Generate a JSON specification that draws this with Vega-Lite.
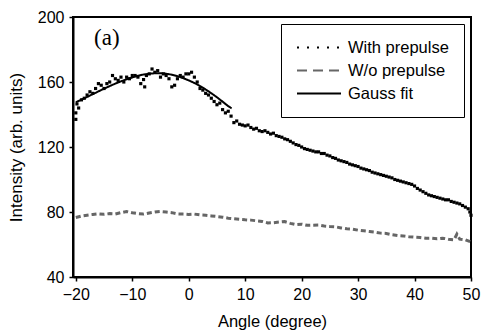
{
  "$schema": "https://vega.github.io/schema/vega-lite/v6.json",
  "autosize": {"type": "none"},
  "padding": {"left": 73, "top": 17, "right": 10, "bottom": 56},
  "width": 398,
  "height": 260,
  "datasets": {
    "with": [
      {"angle": -20, "intensity": 137}, {"angle": -20, "intensity": 141}, {"angle": -19.8, "intensity": 146.5},
      {"angle": -19.5, "intensity": 144}, {"angle": -19, "intensity": 149}, {"angle": -18.5, "intensity": 150},
      {"angle": -18, "intensity": 152}, {"angle": -17.5, "intensity": 154}, {"angle": -17, "intensity": 153},
      {"angle": -16.5, "intensity": 156}, {"angle": -16, "intensity": 159}, {"angle": -15.5, "intensity": 158},
      {"angle": -15, "intensity": 156}, {"angle": -14.5, "intensity": 159}, {"angle": -14, "intensity": 160},
      {"angle": -13.5, "intensity": 164}, {"angle": -13, "intensity": 162}, {"angle": -12.5, "intensity": 161},
      {"angle": -12, "intensity": 163}, {"angle": -11.5, "intensity": 160}, {"angle": -11, "intensity": 163},
      {"angle": -10.5, "intensity": 162}, {"angle": -10, "intensity": 164}, {"angle": -9.5, "intensity": 164},
      {"angle": -9, "intensity": 163}, {"angle": -8.5, "intensity": 159}, {"angle": -8, "intensity": 161.5},
      {"angle": -7.8, "intensity": 157}, {"angle": -7.5, "intensity": 164}, {"angle": -7, "intensity": 165},
      {"angle": -6.5, "intensity": 168}, {"angle": -6, "intensity": 166}, {"angle": -5.5, "intensity": 167},
      {"angle": -5, "intensity": 163}, {"angle": -4.5, "intensity": 165}, {"angle": -4, "intensity": 164},
      {"angle": -3.5, "intensity": 162}, {"angle": -3, "intensity": 157}, {"angle": -2.5, "intensity": 158},
      {"angle": -2, "intensity": 162}, {"angle": -1.5, "intensity": 164}, {"angle": -1, "intensity": 163},
      {"angle": -0.5, "intensity": 165}, {"angle": 0, "intensity": 165}, {"angle": 0.5, "intensity": 166},
      {"angle": 1, "intensity": 163}, {"angle": 1.5, "intensity": 160}, {"angle": 2, "intensity": 156},
      {"angle": 2.5, "intensity": 155}, {"angle": 3, "intensity": 153}, {"angle": 3.5, "intensity": 152},
      {"angle": 4, "intensity": 150}, {"angle": 4.5, "intensity": 148}, {"angle": 5, "intensity": 146},
      {"angle": 5.5, "intensity": 147}, {"angle": 6, "intensity": 143}, {"angle": 6.5, "intensity": 141},
      {"angle": 7, "intensity": 142}, {"angle": 7.5, "intensity": 139}, {"angle": 8, "intensity": 135},
      {"angle": 8.5, "intensity": 136}, {"angle": 9, "intensity": 134}, {"angle": 9.5, "intensity": 133.5},
      {"angle": 10, "intensity": 133}, {"angle": 10.5, "intensity": 133.5}, {"angle": 11, "intensity": 132},
      {"angle": 11.5, "intensity": 131}, {"angle": 12, "intensity": 131.5}, {"angle": 12.5, "intensity": 130},
      {"angle": 13, "intensity": 129.5}, {"angle": 13.5, "intensity": 130}, {"angle": 14, "intensity": 129},
      {"angle": 14.5, "intensity": 128}, {"angle": 15, "intensity": 128.5}, {"angle": 15.5, "intensity": 127},
      {"angle": 16, "intensity": 126.5}, {"angle": 16.5, "intensity": 126}, {"angle": 17, "intensity": 125},
      {"angle": 17.5, "intensity": 124.5}, {"angle": 18, "intensity": 123.5}, {"angle": 18.5, "intensity": 122.5},
      {"angle": 19, "intensity": 121.5}, {"angle": 19.5, "intensity": 121}, {"angle": 20, "intensity": 120},
      {"angle": 20.5, "intensity": 119}, {"angle": 21, "intensity": 118.5}, {"angle": 21.5, "intensity": 118},
      {"angle": 22, "intensity": 117.5}, {"angle": 22.5, "intensity": 117}, {"angle": 23, "intensity": 117},
      {"angle": 23.5, "intensity": 116}, {"angle": 24, "intensity": 116}, {"angle": 24.5, "intensity": 115},
      {"angle": 25, "intensity": 114.5}, {"angle": 25.5, "intensity": 113.5}, {"angle": 26, "intensity": 113},
      {"angle": 26.5, "intensity": 112}, {"angle": 27, "intensity": 111.5}, {"angle": 27.5, "intensity": 111},
      {"angle": 28, "intensity": 110.5}, {"angle": 28.5, "intensity": 109.5}, {"angle": 29, "intensity": 109},
      {"angle": 29.5, "intensity": 108.5}, {"angle": 30, "intensity": 108}, {"angle": 30.5, "intensity": 107},
      {"angle": 31, "intensity": 106.5}, {"angle": 31.5, "intensity": 106}, {"angle": 32, "intensity": 105.5},
      {"angle": 32.5, "intensity": 104.5}, {"angle": 33, "intensity": 104}, {"angle": 33.5, "intensity": 103.5},
      {"angle": 34, "intensity": 103}, {"angle": 34.5, "intensity": 102.5}, {"angle": 35, "intensity": 102},
      {"angle": 35.5, "intensity": 101.5}, {"angle": 36, "intensity": 101}, {"angle": 36.5, "intensity": 100},
      {"angle": 37, "intensity": 99.5}, {"angle": 37.5, "intensity": 99}, {"angle": 38, "intensity": 98.5},
      {"angle": 38.5, "intensity": 98}, {"angle": 39, "intensity": 97.5}, {"angle": 39.5, "intensity": 97},
      {"angle": 40, "intensity": 96}, {"angle": 40.5, "intensity": 94.5}, {"angle": 41, "intensity": 93.5},
      {"angle": 41.5, "intensity": 92.5}, {"angle": 42, "intensity": 91.5}, {"angle": 42.5, "intensity": 90.5},
      {"angle": 43, "intensity": 90}, {"angle": 43.5, "intensity": 89.5}, {"angle": 44, "intensity": 89},
      {"angle": 44.5, "intensity": 88.5}, {"angle": 45, "intensity": 88}, {"angle": 45.5, "intensity": 87.5},
      {"angle": 46, "intensity": 87.5}, {"angle": 46.5, "intensity": 86.5}, {"angle": 47, "intensity": 86},
      {"angle": 47.5, "intensity": 85.5}, {"angle": 48, "intensity": 85}, {"angle": 48.5, "intensity": 84},
      {"angle": 49, "intensity": 83}, {"angle": 49.5, "intensity": 82}, {"angle": 49.8, "intensity": 80},
      {"angle": 50, "intensity": 78}
    ],
    "wo": [
      {"angle": -20, "intensity": 76.6}, {"angle": -19, "intensity": 77.5}, {"angle": -18, "intensity": 78},
      {"angle": -17, "intensity": 78.5}, {"angle": -16, "intensity": 78.9}, {"angle": -15, "intensity": 78.6},
      {"angle": -14, "intensity": 79}, {"angle": -13, "intensity": 78.8}, {"angle": -12, "intensity": 79.6},
      {"angle": -11, "intensity": 80.3}, {"angle": -10, "intensity": 79.5}, {"angle": -9, "intensity": 79},
      {"angle": -8, "intensity": 78.7}, {"angle": -7, "intensity": 79.4}, {"angle": -6, "intensity": 80},
      {"angle": -5, "intensity": 80.3}, {"angle": -4, "intensity": 80}, {"angle": -3, "intensity": 79.6},
      {"angle": -2, "intensity": 78.8}, {"angle": -1, "intensity": 78.7}, {"angle": 0, "intensity": 78.5},
      {"angle": 1, "intensity": 78.7}, {"angle": 2, "intensity": 78.2}, {"angle": 3, "intensity": 78},
      {"angle": 4, "intensity": 77.6}, {"angle": 5, "intensity": 77.2}, {"angle": 6, "intensity": 76.8},
      {"angle": 7, "intensity": 76.2}, {"angle": 8, "intensity": 75.8}, {"angle": 9, "intensity": 75.5},
      {"angle": 10, "intensity": 75.2}, {"angle": 11, "intensity": 75}, {"angle": 12, "intensity": 74.6},
      {"angle": 13, "intensity": 74.2}, {"angle": 14, "intensity": 73.3}, {"angle": 15, "intensity": 73.4},
      {"angle": 16, "intensity": 73.8}, {"angle": 17, "intensity": 74.1}, {"angle": 18, "intensity": 73},
      {"angle": 19, "intensity": 72.2}, {"angle": 20, "intensity": 72.5}, {"angle": 21, "intensity": 71.8},
      {"angle": 22, "intensity": 71.9}, {"angle": 23, "intensity": 72}, {"angle": 24, "intensity": 71.4},
      {"angle": 25, "intensity": 71.1}, {"angle": 26, "intensity": 70.9}, {"angle": 27, "intensity": 70.2},
      {"angle": 28, "intensity": 69.7}, {"angle": 29, "intensity": 69.5}, {"angle": 30, "intensity": 68.8},
      {"angle": 31, "intensity": 68.4}, {"angle": 32, "intensity": 68}, {"angle": 33, "intensity": 67.6},
      {"angle": 34, "intensity": 67}, {"angle": 35, "intensity": 66.8}, {"angle": 36, "intensity": 66},
      {"angle": 37, "intensity": 65.5}, {"angle": 38, "intensity": 65.3}, {"angle": 39, "intensity": 64.8},
      {"angle": 40, "intensity": 64.5}, {"angle": 41, "intensity": 64.3}, {"angle": 42, "intensity": 63.8},
      {"angle": 43, "intensity": 63.9}, {"angle": 44, "intensity": 63.5}, {"angle": 45, "intensity": 63.9},
      {"angle": 46, "intensity": 63.2}, {"angle": 47, "intensity": 62.9}, {"angle": 47.5, "intensity": 66.4},
      {"angle": 48, "intensity": 63.3}, {"angle": 49, "intensity": 62.9}, {"angle": 50, "intensity": 61.5}
    ],
    "fit": [
      {"series": "Gauss fit", "angle": -20, "intensity": 147.5}, {"series": "Gauss fit", "angle": -19, "intensity": 149.2},
      {"series": "Gauss fit", "angle": -18, "intensity": 150.8}, {"series": "Gauss fit", "angle": -17, "intensity": 152.5},
      {"series": "Gauss fit", "angle": -16, "intensity": 154.2}, {"series": "Gauss fit", "angle": -15, "intensity": 155.9},
      {"series": "Gauss fit", "angle": -14, "intensity": 157.5}, {"series": "Gauss fit", "angle": -13, "intensity": 159},
      {"series": "Gauss fit", "angle": -12, "intensity": 160.4}, {"series": "Gauss fit", "angle": -11, "intensity": 161.7},
      {"series": "Gauss fit", "angle": -10, "intensity": 162.8}, {"series": "Gauss fit", "angle": -9, "intensity": 163.8},
      {"series": "Gauss fit", "angle": -8, "intensity": 164.6}, {"series": "Gauss fit", "angle": -7, "intensity": 165.1},
      {"series": "Gauss fit", "angle": -6, "intensity": 165.4}, {"series": "Gauss fit", "angle": -5, "intensity": 165.4},
      {"series": "Gauss fit", "angle": -4, "intensity": 165.1}, {"series": "Gauss fit", "angle": -3, "intensity": 164.5},
      {"series": "Gauss fit", "angle": -2, "intensity": 163.6}, {"series": "Gauss fit", "angle": -1, "intensity": 162.4},
      {"series": "Gauss fit", "angle": 0, "intensity": 161}, {"series": "Gauss fit", "angle": 1, "intensity": 159.4},
      {"series": "Gauss fit", "angle": 2, "intensity": 157.5}, {"series": "Gauss fit", "angle": 3, "intensity": 155.4},
      {"series": "Gauss fit", "angle": 4, "intensity": 153.1}, {"series": "Gauss fit", "angle": 5, "intensity": 150.6},
      {"series": "Gauss fit", "angle": 6, "intensity": 147.9}, {"series": "Gauss fit", "angle": 7, "intensity": 145.1},
      {"series": "Gauss fit", "angle": 7.6, "intensity": 143.8}
    ],
    "label": [{"text": "(a)"}]
  },
  "layer": [
    {
      "data": {"name": "wo"},
      "mark": {"type": "line", "color": "#666666", "strokeWidth": 3, "strokeDash": [5, 3]},
      "encoding": {
        "x": {"field": "angle", "type": "quantitative", "scale": {"domain": [-20.5, 50], "nice": false, "zero": false},
          "axis": {"title": "Angle (degree)", "values": [-20, -15, -10, -5, 0, 5, 10, 15, 20, 25, 30, 35, 40, 45, 50],
            "labelExpr": "datum.value % 10 == 0 ? datum.label : ''", "grid": false, "titlePadding": 11}},
        "y": {"field": "intensity", "type": "quantitative", "scale": {"domain": [40, 200], "nice": false, "zero": false},
          "axis": {"title": "Intensity (arb. units)", "values": [40, 60, 80, 100, 120, 140, 160, 180, 200],
            "labelExpr": "datum.value % 40 == 0 ? datum.label : ''", "grid": false, "titlePadding": 12, "titleFontSize": 17}}
      }
    },
    {
      "data": {"name": "with"},
      "mark": {"type": "square", "color": "black", "filled": true, "size": 10, "opacity": 1},
      "encoding": {
        "x": {"field": "angle", "type": "quantitative"},
        "y": {"field": "intensity", "type": "quantitative"}
      }
    },
    {
      "data": {"name": "fit"},
      "mark": {"type": "line", "strokeWidth": 2},
      "encoding": {
        "x": {"field": "angle", "type": "quantitative"},
        "y": {"field": "intensity", "type": "quantitative"},
        "color": {"field": "series", "type": "nominal",
          "scale": {"domain": ["With prepulse", "W/o prepulse", "Gauss fit"], "range": ["black", "#666666", "black"]},
          "legend": {"title": null, "orient": "top-right", "offset": 7, "symbolType": "stroke", "symbolSize": 1936,
            "symbolStrokeWidth": 2, "labelFontSize": 16.5, "labelFont": "Liberation Sans", "labelColor": "black",
            "labelOffset": 6, "padding": 15, "rowPadding": 6, "clipHeight": 17, "fillColor": "white", "strokeColor": "black"}},
        "strokeDash": {"field": "series", "type": "nominal",
          "scale": {"domain": ["With prepulse", "W/o prepulse", "Gauss fit"], "range": [[2, 8], [10, 6], [1, 0]]},
          "legend": {"title": null, "orient": "top-right", "offset": 7, "symbolType": "stroke", "symbolSize": 1936,
            "symbolStrokeWidth": 2, "labelFontSize": 16.5, "labelFont": "Liberation Sans", "labelColor": "black",
            "labelOffset": 6, "padding": 15, "rowPadding": 6, "clipHeight": 17, "fillColor": "white", "strokeColor": "black"}}
      }
    },
    {
      "data": {"name": "label"},
      "mark": {"type": "text", "font": "Liberation Serif", "fontSize": 23, "color": "black", "align": "center", "baseline": "middle"},
      "encoding": {
        "text": {"field": "text"},
        "x": {"datum": -14.5, "type": "quantitative"},
        "y": {"datum": 187, "type": "quantitative"}
      }
    }
  ],
  "config": {
    "view": {"stroke": "black", "strokeWidth": 2},
    "axis": {
      "labelFont": "Liberation Sans", "labelFontSize": 16, "labelColor": "black",
      "titleFont": "Liberation Sans", "titleFontSize": 16.5, "titleFontWeight": "normal", "titleColor": "black",
      "domainColor": "black", "domainWidth": 2, "tickColor": "black", "tickWidth": 1.5, "tickSize": 4,
      "labelPadding": 5, "labelFlush": false, "labelOverlap": false
    }
  }
}
